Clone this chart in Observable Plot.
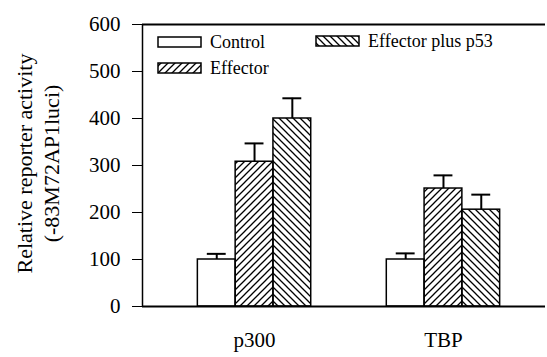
<!DOCTYPE html>
<html>
<head>
<meta charset="utf-8">
<script src="https://cdn.jsdelivr.net/npm/d3@7"></script>
<script src="https://cdn.jsdelivr.net/npm/@observablehq/plot@0.6"></script>
<style>
  html, body { margin: 0; padding: 0; background: #fff; }
  #chart svg { display: block; }
  #chart svg text { font-family: 'Liberation Serif', 'Times New Roman', serif !important; }
</style>
</head>
<body>
<div id="chart"></div>
<script>
// ---- data ----
const groups = ["p300", "TBP"];
const seriesNames = ["Control", "Effector", "Effector plus p53"];
const controlValues = [100, 100];
const controlErrors = [12, 13];
const effectorValues = [308, 251];
const effectorErrors = [39, 28];
const effectorP53Values = [400, 206];
const effectorP53Errors = [43, 32];
const yTicks = [0, 100, 200, 300, 400, 500, 600];
const yLabel = "Relative reporter activity\n(-83M72AP1luci)";

// ---- build table ----
const valueSets = [controlValues, effectorValues, effectorP53Values];
const errorSets = [controlErrors, effectorErrors, effectorP53Errors];
const barW = 0.2;
const data = [];
groups.forEach((g, gi) => {
  seriesNames.forEach((s, si) => {
    const c = gi + (si - 1) * barW;
    data.push({group: g, series: s, value: valueSets[si][gi], err: errorSets[si][gi],
      x1: c - barW / 2, x2: c + barW / 2, xc: c});
  });
});
const fills = {"Control": "white", "Effector": "url(#hatchFwd)", "Effector plus p53": "url(#hatchBack)"};
const xDomain = [-0.593, 1.54];
const cap = 0.05;
const FONT = "'Liberation Serif', 'Times New Roman', serif";

const svg = Plot.plot({
  width: 547,
  height: 357,
  marginLeft: 142,
  marginRight: 2,
  marginTop: 24,
  marginBottom: 51,
  style: `font-family: ${FONT}; font-size: 21px; background: white; color: black;`,
  x: {domain: xDomain, ticks: [0, 1], tickFormat: i => groups[i], tickSize: 0, tickPadding: 26, label: null},
  y: {domain: [0, 600], ticks: yTicks, tickSize: 10, tickPadding: 12, label: null},
  marks: [
    ...seriesNames.map(s => Plot.rectY(data.filter(d => d.series === s), {
      x1: "x1", x2: "x2", y: "value", fill: fills[s], stroke: "black", strokeWidth: 1.5
    })),
    Plot.ruleX(data, {x: "xc", y1: "value", y2: d => d.value + d.err, strokeWidth: 2}),
    Plot.ruleY(data, {y: d => d.value + d.err, x1: d => d.xc - cap, x2: d => d.xc + cap, strokeWidth: 2}),
    Plot.ruleY([0, 600], {strokeWidth: 2}),
    Plot.ruleX([xDomain[0]], {y1: 0, y2: 600, strokeWidth: 1.5}),
    Plot.text([yLabel], {frameAnchor: "left", text: d => d, rotate: -90, dx: -106, dy: -2,
      fontSize: 22, lineHeight: 1.22, textAnchor: "middle", lineAnchor: "middle"})
  ]
});

const sel = d3.select(svg);
sel.attr("font-family", FONT);

// hatch patterns
const defs = sel.insert("defs", ":first-child");
const pf = defs.append("pattern").attr("id", "hatchFwd").attr("patternUnits", "userSpaceOnUse")
  .attr("width", 7).attr("height", 7);
pf.append("path").attr("d", "M0,7 L7,0 M-1,1 L1,-1 M6,8 L8,6").attr("stroke", "black").attr("stroke-width", 1.3);
const pb = defs.append("pattern").attr("id", "hatchBack").attr("patternUnits", "userSpaceOnUse")
  .attr("width", 7).attr("height", 7);
pb.append("path").attr("d", "M0,0 L7,7 M-1,6 L1,8 M6,-1 L8,1").attr("stroke", "black").attr("stroke-width", 1.3);

// legend
const legendItems = [
  {name: seriesNames[0], x: 158, y: 37},
  {name: seriesNames[1], x: 158, y: 63},
  {name: seriesNames[2], x: 316, y: 36}
];
const lg = sel.append("g").attr("text-anchor", "start");
legendItems.forEach(it => {
  lg.append("rect").attr("x", it.x).attr("y", it.y).attr("width", 43).attr("height", 10)
    .attr("fill", fills[it.name]).attr("stroke", "black").attr("stroke-width", 1.5);
  lg.append("text").attr("x", it.x + 52).attr("y", it.y + 5).attr("dy", "0.35em")
    .style("font-size", "18px").text(it.name);
});

// make sure every text uses the serif face
sel.selectAll("text").style("font-family", FONT);

document.getElementById("chart").appendChild(svg);
</script>
</body>
</html>
